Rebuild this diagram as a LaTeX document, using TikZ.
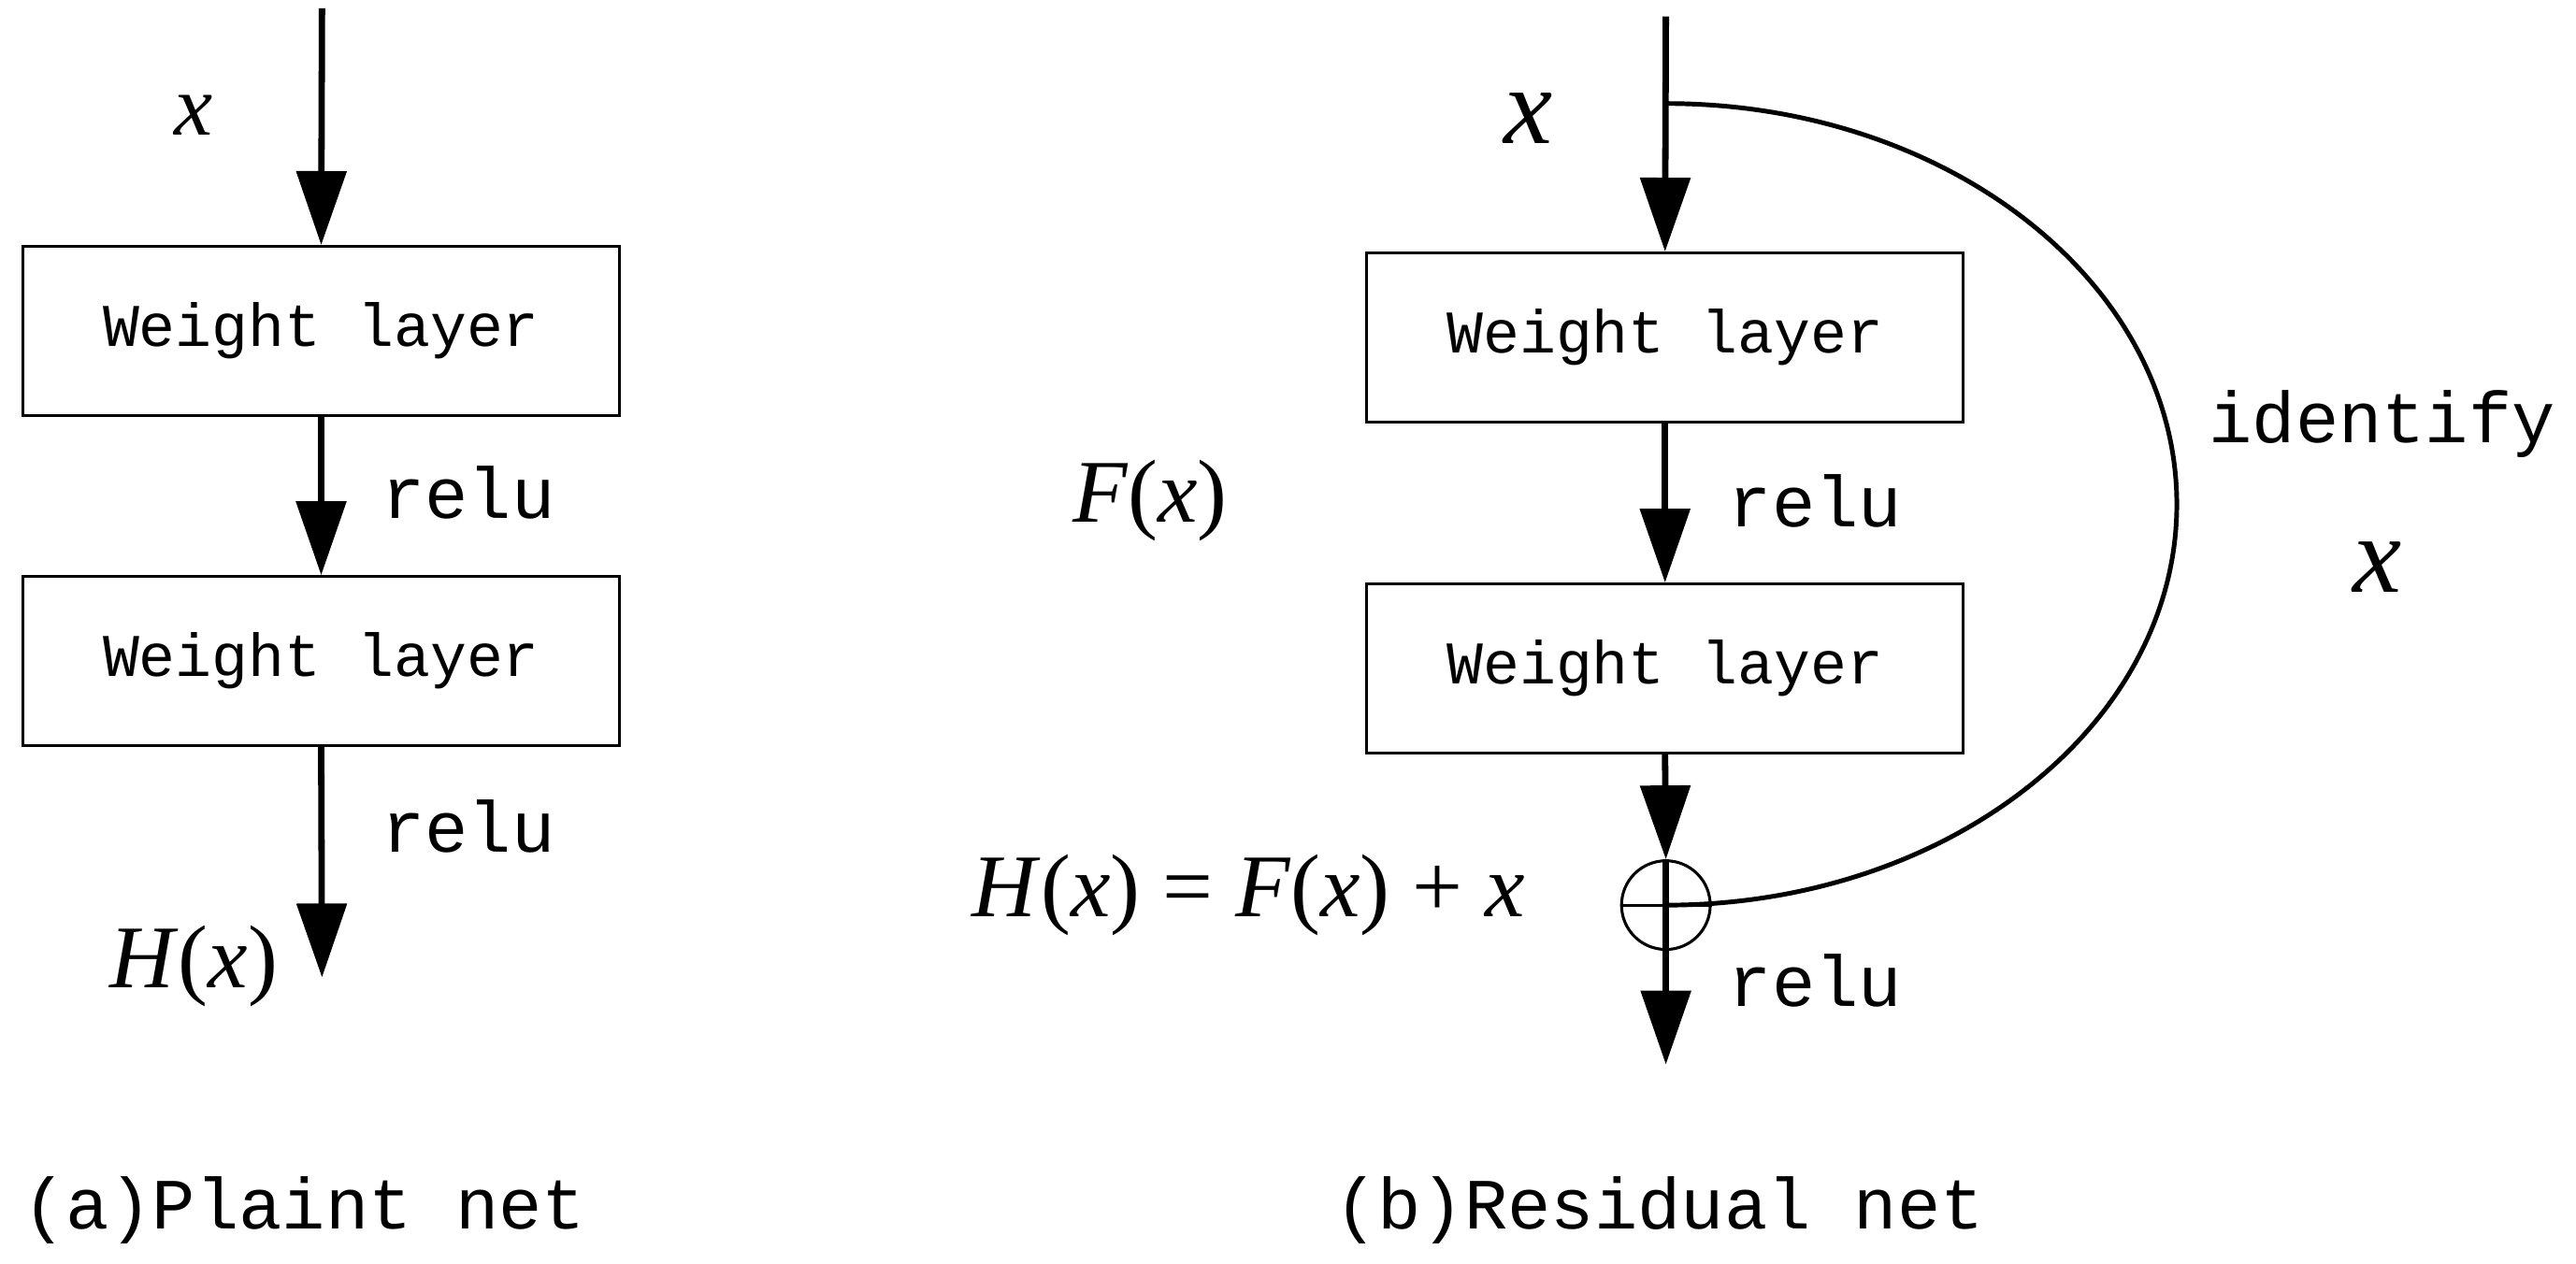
\documentclass[tikz,border=0pt]{standalone}
\usepackage{fontspec}
\setmainfont{Liberation Serif}
\newfontfamily\mono{Liberation Mono}
\usetikzlibrary{arrows.meta}
\begin{document}
\begin{tikzpicture}[x=0.02cm,y=-0.02cm,
  box/.style={draw,line width=1pt,minimum width=7.26cm,minimum height=2.06cm,font=\mono\fontsize{21}{21}\selectfont},
  arr/.style={line width=2.2pt,-{Triangle[length=0.9cm,width=0.6cm]}},
  lab/.style={font=\mono\fontsize{25}{25}\selectfont},
  mx/.style={font=\itshape\fontsize{30}{30}\selectfont}]
\useasboundingbox (0,0) rectangle (1568,769);
% left
\coordinate (a0) at (196,5);
\node[box] (l1) at (195.5,201.5) {Weight layer};
\node[box] (l2) at (195.5,402.5) {Weight layer};
\coordinate (a3) at (196,595);
\draw[arr] (a0) -- (l1.north);
\draw[arr] (l1.south) -- (l2.north);
\draw[arr] (l2.south) -- (a3);
\node[mx] (lx) at (118,70) {x};
\node[lab] (lr1) at (285,300) {relu};
\node[lab] (lr2) at (285,503) {relu};
\node[font=\fontsize{31}{31}\selectfont] (lh) at (118,588) {\textit{H}(\textit{x})};
\node[lab] (lc) at (185,737) {(a)Plaint net};
% right
\coordinate (b0) at (1014,10);
\node[box] (r1) at (1013.5,205.5) {Weight layer};
\node[box] (r2) at (1013.5,407) {Weight layer};
\node[draw,circle,line width=1pt,minimum size=1.08cm,inner sep=0] (pl) at (1014,551) {};
\coordinate (b5) at (1014,648);
\coordinate (tap) at (1014,63);
\draw[arr] (b0) -- (r1.north);
\draw[arr] (r1.south) -- (r2.north);
\draw[arr] (r2.south) -- (pl.north);
\draw[line width=2.2pt] (pl.north) -- (pl.center);
\draw[arr] (pl.center) -- (b5);
\draw[line width=1pt] (pl.west) -- (pl.east);
\draw[line width=1.6pt] (tap) arc[start angle=-90,end angle=90,x radius=311,y radius=244];
\node[font=\itshape\fontsize{38}{38}\selectfont] (rx) at (930,72) {x};
\node[font=\fontsize{31}{31}\selectfont] (fx) at (700,305) {\textit{F}(\textit{x})};
\node[lab] (rr1) at (1105,305) {relu};
\node[lab] (id) at (1450,258) {identify};
\node[font=\itshape\fontsize{38}{38}\selectfont] (ix) at (1447,345) {x};
\node[font=\fontsize{31}{31}\selectfont] (hx) at (760,545) {\textit{H}(\textit{x}) = \textit{F}(\textit{x}) + \textit{x}};
\node[lab] (rr2) at (1105,597) {relu};
\node[lab] (rc) at (1010,737) {(b)Residual net};
\end{tikzpicture}
\end{document}
